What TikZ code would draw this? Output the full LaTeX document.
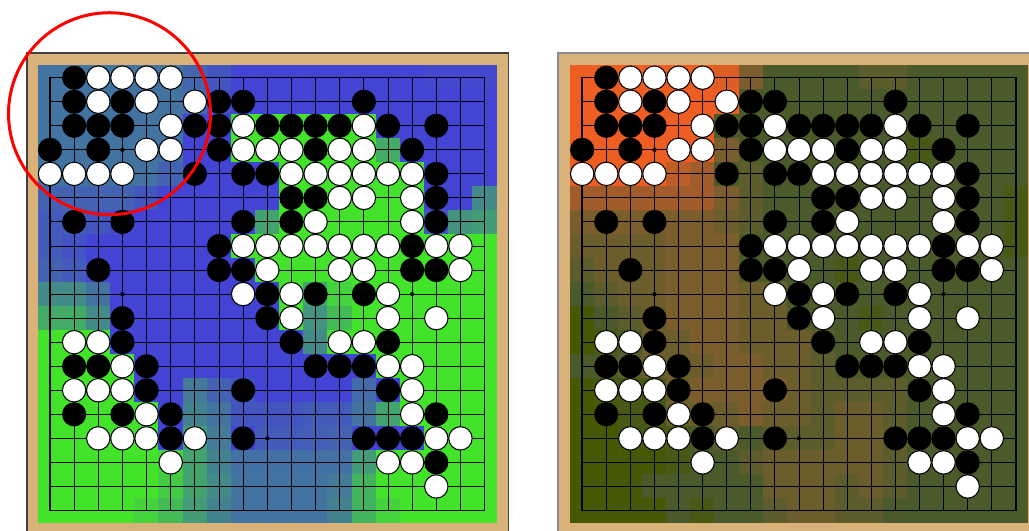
\documentclass[tikz,border=0pt]{standalone}
\usetikzlibrary{positioning}

% colours of the two boards
\definecolor{boardtan}{RGB}{216,178,120}
\definecolor{mapblue}{RGB}{67,67,212}
\definecolor{mapgreen}{RGB}{67,227,43}
\definecolor{heat0}{RGB}{70,88,4}
\definecolor{heat1}{RGB}{72,89,22}
\definecolor{heat2}{RGB}{74,90,42}
\definecolor{heat3}{RGB}{92,92,44}
\definecolor{heat4}{RGB}{108,93,45}
\definecolor{heat5}{RGB}{124,94,46}
\definecolor{heat6}{RGB}{160,92,42}
\definecolor{heat7}{RGB}{190,93,38}
\definecolor{heat8}{RGB}{220,94,36}
\definecolor{heat9}{RGB}{238,94,34}

% stones (column/row)
\def\blacklist{1/0, 1/1,3/1,7/1,8/1,13/1,
  1/2,2/2,3/2,6/2,7/2,9/2,10/2,11/2,12/2,14/2,16/2,
  0/3,2/3,7/3,11/3,15/3, 6/4,8/4,9/4,16/4, 10/5,11/5,16/5,
  1/6,3/6,8/6,10/6,16/6, 7/7,15/7, 2/8,7/8,8/8,15/8,16/8,
  9/9,11/9,13/9, 3/10,9/10, 3/11,10/11,14/11,
  1/12,2/12,4/12,11/12,12/12,13/12, 4/13,8/13,14/13,
  1/14,3/14,5/14,16/14, 5/15,8/15,13/15,14/15,15/15, 16/16}
\def\whitelist{2/0,3/0,4/0,5/0, 2/1,4/1,6/1, 5/2,8/2,13/2,
  4/3,5/3,8/3,9/3,10/3,12/3,13/3,
  0/4,1/4,2/4,3/4,10/4,11/4,12/4,13/4,14/4,15/4,
  12/5,13/5,15/5, 11/6,15/6,
  8/7,9/7,10/7,11/7,12/7,13/7,14/7,16/7,17/7,
  9/8,12/8,13/8,17/8, 8/9,10/9,14/9, 10/10,14/10,16/10,
  1/11,2/11,12/11,13/11, 3/12,14/12,15/12, 1/13,2/13,3/13,15/13,
  4/14,15/14, 2/15,3/15,4/15,6/15,16/15,17/15, 5/16,14/16,15/16, 16/17}

% ownership map, percent of green
\def\leftmap{
  {30,30,30,30,30,30,22,12,0,0,0,0,0,0,0,0,3,3,3},
  {30,30,30,30,30,30,25,8,0,0,0,0,0,0,0,0,0,0,0},
  {30,30,30,30,30,30,0,0,100,100,100,100,100,100,0,0,0,0,0},
  {30,30,30,30,30,30,0,0,100,100,100,100,100,100,65,0,0,0,0},
  {30,30,30,30,30,20,0,0,0,0,100,100,100,100,100,100,0,0,0},
  {20,20,20,20,12,0,0,0,0,0,100,100,100,100,100,100,0,0,45},
  {15,15,12,5,0,0,0,0,0,60,100,100,100,100,100,100,10,50,55},
  {15,10,0,0,0,0,0,0,100,100,100,100,100,100,100,100,100,100,100},
  {20,15,0,0,0,0,0,0,0,100,100,100,100,100,100,100,100,100,100},
  {45,45,30,0,0,0,0,0,0,0,100,60,90,100,100,100,100,100,100},
  {65,65,45,0,0,0,0,0,0,0,100,50,75,100,100,100,100,100,100},
  {100,100,100,0,0,0,0,0,0,0,0,45,100,100,100,100,100,100,100},
  {100,100,100,100,0,0,0,0,0,0,0,0,0,0,100,100,100,100,100},
  {100,100,100,100,0,0,35,20,10,0,0,0,0,25,0,100,100,100,100},
  {100,100,100,100,100,0,40,30,12,12,12,15,15,30,60,100,100,100,100},
  {100,100,100,100,100,0,55,35,0,15,15,18,20,0,0,0,100,100,100},
  {100,100,100,100,100,90,60,40,28,28,28,28,28,55,100,100,100,100,100},
  {100,100,100,100,100,85,60,45,30,30,30,30,35,70,100,100,100,100,100},
  {100,100,100,100,90,75,55,40,30,30,30,30,40,70,90,100,100,100,100}}

% second map, colour index
\def\rightmap{
  {9,9,9,9,9,9,8,5,2,2,2,2,3,3,2,2,2,2,2},
  {9,9,9,9,9,9,9,2,2,2,2,2,2,2,2,2,2,2,2},
  {9,9,9,9,9,9,2,2,2,2,2,2,2,2,2,2,2,2,2},
  {9,9,9,9,9,9,5,2,2,2,2,2,2,2,1,2,2,2,2},
  {9,9,9,9,7,6,2,3,2,2,2,2,2,2,2,2,2,2,2},
  {6,6,6,6,6,6,5,3,2,2,2,2,2,2,2,2,2,2,1},
  {5,5,5,5,5,5,4,3,2,2,2,2,2,2,2,2,2,2,1},
  {4,4,4,4,5,5,5,2,2,2,2,2,2,2,2,2,2,2,1},
  {3,4,4,4,5,5,5,2,2,2,2,1,2,2,2,2,2,2,2},
  {2,3,4,4,5,5,5,4,4,2,2,2,2,2,2,2,2,2,2},
  {0,2,3,4,5,5,5,4,4,2,2,2,1,2,2,2,1,2,2},
  {0,1,2,4,4,5,5,4,4,4,3,2,2,2,2,2,2,2,2},
  {2,2,3,4,4,4,5,5,4,4,3,2,2,2,2,2,2,2,2},
  {0,1,1,1,4,5,5,5,5,4,3,3,3,3,2,2,2,2,2},
  {0,0,1,1,4,4,4,5,4,4,3,4,4,3,2,2,2,2,2},
  {0,0,1,1,1,2,3,2,3,3,3,4,4,3,2,2,2,2,2},
  {0,0,0,0,1,2,2,3,4,4,4,4,4,3,2,2,2,2,2},
  {0,0,0,2,2,2,2,2,4,4,4,3,4,3,2,2,2,2,2},
  {0,0,0,0,2,1,2,2,3,4,4,3,3,2,2,2,2,2,2}}

\begin{document}
\begin{tikzpicture}[
    x=0.02cm, y=-0.02cm,
    % Estilos
    blackstone/.style={circle, fill=black, draw=black, line width=0.4pt, inner sep=0pt, minimum size=0.468cm},
    whitestone/.style={circle, fill=white, draw=black, line width=0.6pt, inner sep=0pt, minimum size=0.468cm},
    boardframe/.style={fill=boardtan, draw=black!75, line width=0.6pt},
    gridline/.style={line width=0.55pt, black},
    hoshi/.style={black},
    ]
    \clip (0,0) rectangle (1029,531);
    \fill[white] (0,0) rectangle (1029,531);

    % Tableros
    \filldraw[boardframe] (27,53) rectangle (508.5,560);
    \filldraw[boardframe, draw=black!45] (558,53) rectangle (1060,560);

    % LEFT BOARD
    \begin{scope}[x={(0.483cm,0)}, y={(0,-0.481cm)}, shift={(1cm,-1.554cm)}]
        % ownership map
        \foreach \row [count=\r from 0] in \leftmap {
            \foreach \v [count=\c from 0] in \row {
                \fill[mapgreen!\v!mapblue] (\c-.51,\r-.51) rectangle (\c+.51,\r+.51);
            }
        }
        % grid
        \foreach \k in {0,...,18} {
            \draw[gridline] (\k,0) -- (\k,18);
            \draw[gridline] (0,\k) -- (18,\k);
        }
        \draw[gridline, line width=0.9pt] (0,0) rectangle (18,18);
        \foreach \c in {3,9,15}
            \foreach \r in {3,9,15}
                \fill[hoshi] (\c,\r) circle (1.2pt);
        % stones
        \foreach \c/\r in \blacklist
            \node[blackstone] (lb-\c-\r) at (\c,\r) {};
        \foreach \c/\r in \whitelist
            \node[whitestone] (lw-\c-\r) at (\c,\r) {};
    \end{scope}

    % RIGHT BOARD
    \begin{scope}[x={(0.482cm,0)}, y={(0,-0.481cm)}, shift={(11.646cm,-1.554cm)}]
        % second map
        \foreach \row [count=\r from 0] in \rightmap {
            \foreach \v [count=\c from 0] in \row {
                \fill[heat\v] (\c-.51,\r-.51) rectangle (\c+.51,\r+.51);
            }
        }
        % grid
        \foreach \k in {0,...,18} {
            \draw[gridline] (\k,0) -- (\k,18);
            \draw[gridline] (0,\k) -- (18,\k);
        }
        \draw[gridline, line width=0.9pt] (0,0) rectangle (18,18);
        \foreach \c in {3,9,15}
            \foreach \r in {3,9,15}
                \fill[hoshi] (\c,\r) circle (1.2pt);
        % stones
        \foreach \c/\r in \blacklist
            \node[blackstone] (rb-\c-\r) at (\c,\r) {};
        \foreach \c/\r in \whitelist
            \node[whitestone] (rw-\c-\r) at (\c,\r) {};
    \end{scope}

    % marca
    \draw[red, line width=0.06cm] (109.5,113.7) circle (2.02cm);
\end{tikzpicture}
\end{document}
